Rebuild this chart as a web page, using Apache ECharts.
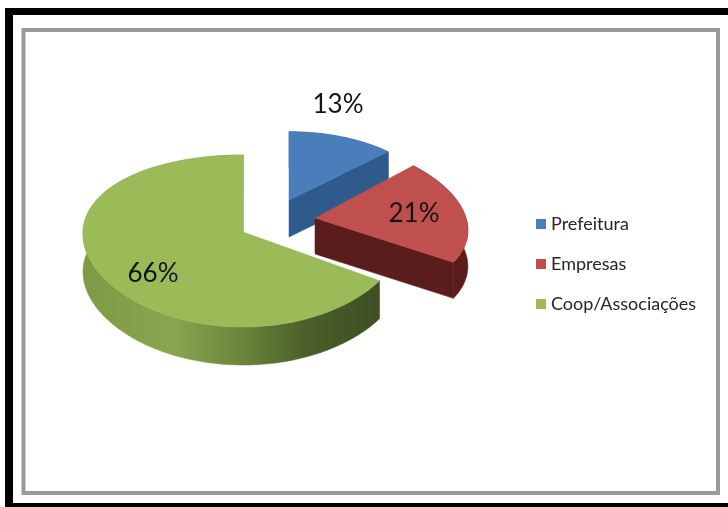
<!DOCTYPE html>
<html>
<head>
<meta charset="utf-8">
<style>html,body{margin:0;padding:0;background:#fff}#chart{width:728px;height:507px}</style>
<script src="https://cdn.jsdelivr.net/npm/echarts@6/dist/echarts.min.js"></script>
</head>
<body>
<div id="chart"></div>
<script>
// Destination of the collected material, in percent
const categories = ['Prefeitura', 'Empresas', 'Coop/Associações'];
const shares = [13, 21, 66];

const topColors = ['#4a7ebb', '#c0504d', '#9bbb59'];
const sideColors = ['#2f5a8c', '#5a1d1b', '#5a7333'];

// Projection of each exploded slice: apex, radii, foreshortening, wall depth and label spot
const slices = [
  { cx: 289, cy: 200, rx: 145, ry: 75, kx: 0.09, ky: 0.09, depth: 37, label: [338, 105] },
  { cx: 315, cy: 218, rx: 151, ry: 80, kx: 0.16, ky: 0.065, depth: 36, label: [414, 214] },
  { cx: 243, cy: 232, rx: 160, ry: 86, kx: 0.02, ky: 0.105, depth: 38, label: [153, 274] }
];

const total = shares.reduce((a, b) => a + b, 0);

function rimPoint(s, theta) {
  const u = Math.sin(theta), v = -Math.cos(theta);
  return [s.cx + s.rx * u * (1 + s.kx * v), s.cy + s.ry * v * (1 + s.ky * v)];
}

function renderSlice(index) {
  return function (params, api) {
    const s = slices[index];
    const before = shares.slice(0, index).reduce((a, b) => a + b, 0);
    const start = before / total * Math.PI * 2;
    const end = start + api.value(0) / total * Math.PI * 2;

    const rim = [];
    const steps = Math.max(8, Math.round((end - start) / (Math.PI / 180)));
    for (let i = 0; i <= steps; i++) {
      rim.push(rimPoint(s, start + (end - start) * i / steps));
    }
    const lower = p => [p[0], p[1] + s.depth];
    const apex = [s.cx, s.cy];

    const wallFill = index === 2
      ? new echarts.graphic.LinearGradient(0, 0, 1, 0, [
          { offset: 0, color: '#7f9a45' },
          { offset: 0.3, color: '#8aa550' },
          { offset: 0.52, color: '#6d873d' },
          { offset: 0.75, color: '#4a5f2a' },
          { offset: 1, color: '#3e4f22' }
        ])
      : sideColors[index];

    const poly = (points, fill) => ({
      type: 'polygon',
      shape: { points },
      style: { fill, stroke: fill, lineWidth: 0.5 },
      silent: true
    });

    const children = [
      poly(rim.concat(rim.slice().reverse().map(lower)), wallFill),
      poly([apex, rim[rim.length - 1], lower(rim[rim.length - 1]), lower(apex)], sideColors[index]),
      poly([apex].concat(rim), topColors[index]),
      {
        type: 'text',
        silent: true,
        style: {
          x: s.label[0],
          y: s.label[1],
          text: api.value(0) + '%',
          align: 'center',
          verticalAlign: 'middle',
          font: '26px Lato',
          fill: '#141414'
        }
      }
    ];
    return { type: 'group', children };
  };
}

const option = {
  animation: false,
  backgroundColor: '#ffffff',
  legend: {
    orient: 'vertical',
    left: 531,
    top: 209,
    itemWidth: 10,
    itemHeight: 10,
    itemGap: 20,
    icon: 'rect',
    selectedMode: false,
    data: categories,
    textStyle: { fontFamily: 'Lato', fontSize: 18, color: '#262626', lineHeight: 20 }
  },
  graphic: [
    // Outer black band and inner grey panel border
    { type: 'rect', shape: { x: 5, y: 8, width: 723, height: 7 }, style: { fill: '#000' } },
    { type: 'rect', shape: { x: 5, y: 8, width: 8, height: 499 }, style: { fill: '#000' } },
    { type: 'rect', shape: { x: 5, y: 503, width: 723, height: 4 }, style: { fill: '#000' } },
    { type: 'rect', shape: { x: 23.5, y: 30, width: 694.5, height: 463 }, style: { fill: 'none', stroke: '#999', lineWidth: 4 } }
  ],
  series: categories.map((name, i) => ({
    type: 'custom',
    name,
    coordinateSystem: 'none',
    itemStyle: { color: topColors[i] },
    renderItem: renderSlice(i),
    data: [[shares[i]]],
    z: 2 + i
  }))
};

echarts.init(document.getElementById('chart'), null, { renderer: 'canvas' }).setOption(option);
</script>
</body>
</html>
